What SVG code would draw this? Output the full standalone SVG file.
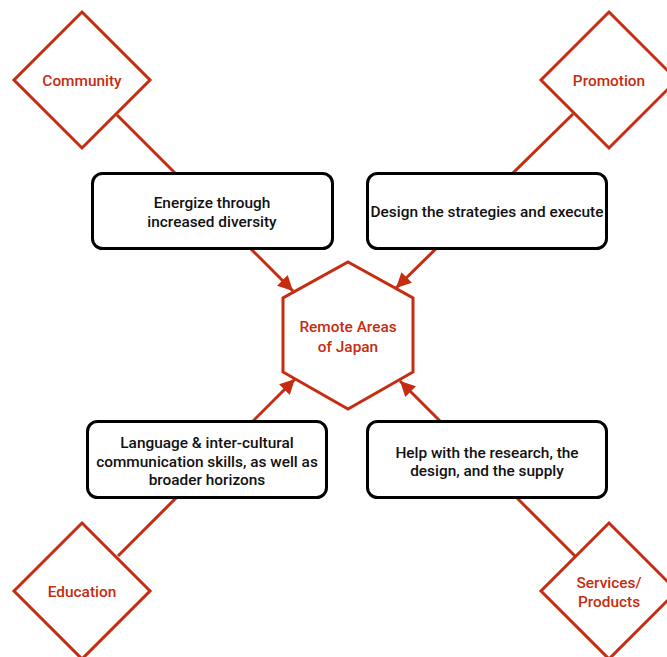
<svg xmlns="http://www.w3.org/2000/svg" width="667" height="657" viewBox="0 0 667 657">
  <style>
    .bg { fill: #ffffff; }
    .link { stroke: #c62c10; stroke-width: 3; fill: none; }
    .diamond { fill: #ffffff; stroke: #c62c10; stroke-width: 3; }
    .hex { fill: #ffffff; stroke: #c62c10; stroke-width: 3; }
    .box { fill: #ffffff; stroke: #000000; stroke-width: 3; }
    text { font-family: Roboto, "Liberation Sans", sans-serif; font-weight: 500; font-size: 15.4px; text-anchor: middle; }
    .red { fill: #c62c10; }
    .dark { fill: #111111; }
  </style>
  <defs>
    <marker id="arrow" viewBox="0 0 10 10" refX="10" refY="5" markerWidth="5" markerHeight="5" markerUnits="strokeWidth" orient="auto">
      <path d="M0,0 L10,5 L0,10 Z" fill="#c62c10"/>
    </marker>
  </defs>
  <rect class="bg" x="0" y="0" width="667" height="657"/>

  <g id="connectors">
    <line class="link" x1="117" y1="115" x2="293" y2="291" marker-end="url(#arrow)"/>
    <line class="link" x1="573" y1="114" x2="396" y2="288" marker-end="url(#arrow)"/>
    <line class="link" x1="118" y1="556" x2="295" y2="379" marker-end="url(#arrow)"/>
    <line class="link" x1="575" y1="556" x2="400" y2="381" marker-end="url(#arrow)"/>
  </g>

  <g id="community">
    <polygon class="diamond" points="82,12 150,80 82,148 14,80"/>
    <text class="red" x="82" y="85.5">Community</text>
  </g>
  <g id="promotion">
    <polygon class="diamond" points="609,12 677,80 609,148 541,80"/>
    <text class="red" x="609" y="85.5">Promotion</text>
  </g>
  <g id="education">
    <polygon class="diamond" points="82,523 150,591 82,659 14,591"/>
    <text class="red" x="82" y="596.5">Education</text>
  </g>
  <g id="services">
    <polygon class="diamond" points="609,523 677,591 609,659 541,591"/>
    <text class="red" x="609" y="587.5">Services/</text>
    <text class="red" x="609" y="606.5">Products</text>
  </g>

  <g id="energize">
    <rect class="box" x="92.5" y="173.5" width="240" height="75" rx="10"/>
    <text class="dark" x="212" y="207.5">Energize through</text>
    <text class="dark" x="212" y="226.5">increased diversity</text>
  </g>
  <g id="strategies">
    <rect class="box" x="367.5" y="173.5" width="239" height="75" rx="10"/>
    <text class="dark" x="487" y="216.5">Design the strategies and execute</text>
  </g>
  <g id="language">
    <rect class="box" x="87.5" y="421.5" width="239" height="76" rx="10"/>
    <text class="dark" x="207" y="447.5">Language &amp; inter-cultural</text>
    <text class="dark" x="207" y="466.5">communication skills, as well as</text>
    <text class="dark" x="207" y="484.5">broader horizons</text>
  </g>
  <g id="support">
    <rect class="box" x="367.5" y="421.5" width="239" height="76" rx="10"/>
    <text class="dark" x="487" y="457.5">Help with the research, the</text>
    <text class="dark" x="487" y="475.5">design, and the supply</text>
  </g>

  <g id="remote-areas">
    <polygon class="hex" points="348,262 413,298 413,372 348,409 283,372 283,298"/>
    <text class="red" x="348" y="331.5">Remote Areas</text>
    <text class="red" x="348" y="351.5">of Japan</text>
  </g>
</svg>
